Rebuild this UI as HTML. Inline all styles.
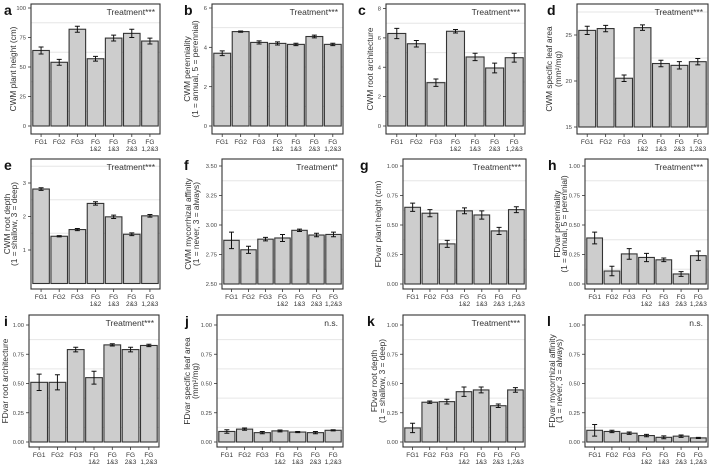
<!DOCTYPE html>
<html><head><meta charset="utf-8">
<style>
body{margin:0;background:#fff;}
svg{display:block;font-family:"Liberation Sans",Arial,sans-serif;}
</style></head>
<body>
<svg id="chart" width="709" height="466" viewBox="0 0 709 466" xmlns="http://www.w3.org/2000/svg"></svg>
<script>
const categories = [["FG1"],["FG2"],["FG3"],["FG","1&2"],["FG","1&3"],["FG","2&3"],["FG","1,2&3"]];
const valsA = [64,54,82,57,74.5,78.5,72];
const errA = [3,2.5,2.5,2,2.5,3.5,2.5];
const valsB = [3.7,4.8,4.25,4.2,4.15,4.55,4.15];
const errB = [0.12,0.03,0.08,0.08,0.06,0.07,0.06];
const valsC = [6.3,5.6,2.95,6.45,4.7,3.95,4.65];
const errC = [0.35,0.22,0.25,0.12,0.25,0.33,0.3];
const valsD = [25.5,25.7,20.3,25.8,21.9,21.7,22.1];
const errD = [0.45,0.35,0.35,0.3,0.35,0.4,0.35];
const valsE = [2.82,1.41,1.61,2.39,1.99,1.47,2.02];
const errE = [0.04,0.02,0.03,0.05,0.05,0.04,0.04];
const valsF = [2.87,2.79,2.88,2.89,2.955,2.915,2.92];
const errF = [0.07,0.03,0.015,0.03,0.01,0.015,0.02];
const valsG = [0.65,0.60,0.34,0.62,0.585,0.45,0.63];
const errG = [0.035,0.03,0.03,0.025,0.035,0.03,0.025];
const valsH = [0.39,0.11,0.255,0.225,0.205,0.085,0.24];
const errH = [0.05,0.04,0.045,0.035,0.015,0.02,0.04];
const valsI = [0.51,0.51,0.79,0.55,0.83,0.79,0.825];
const errI = [0.07,0.065,0.02,0.055,0.01,0.02,0.01];
const valsJ = [0.09,0.11,0.08,0.095,0.085,0.08,0.10];
const errJ = [0.015,0.01,0.01,0.008,0.005,0.01,0.005];
const valsK = [0.12,0.34,0.345,0.43,0.445,0.31,0.445];
const errK = [0.04,0.01,0.02,0.04,0.025,0.015,0.02];
const valsL = [0.10,0.09,0.075,0.055,0.04,0.05,0.035];
const errL = [0.05,0.01,0.01,0.01,0.012,0.01,0.005];
const ticksA = [0,25,50,75,100];
const ticksB = [0,2,4,6];
const ticksC = [0,2,4,6,8];
const ticksD = [15,20,25];
const ticksE = [1,2,3];
const ticksF = [2.5,2.75,3,3.25,3.5];
const ticksFD = [0,0.25,0.5,0.75,1];
const stats = ["Treatment***","Treatment***","Treatment***","Treatment***","Treatment***","Treatment*","Treatment***","Treatment***","Treatment***","n.s.","Treatment***","n.s."];

const NS="http://www.w3.org/2000/svg";
const svg=document.getElementById('chart');
function mk(tag,attrs,parent,text){const e=document.createElementNS(NS,tag);for(const k in attrs)e.setAttribute(k,attrs[k]);if(text!==undefined)e.textContent=text;(parent||svg).appendChild(e);return e;}

const panels=[
 {id:'a',L:31,R:160,T:4,B:134,v0:0,p0:126,v1:100,p1:8,base:0,ticks:ticksA,dec:0,vals:valsA,err:errA,lx:4,ly:15,title:["CWM plant height (cm)"],tx:[13]},
 {id:'b',L:212,R:343,T:4,B:134,v0:0,p0:126,v1:6,p1:8,base:0,ticks:ticksB,dec:0,vals:valsB,err:errB,lx:184,ly:15,title:["CWM perenniality","(1 = annual, 5 = perennial)"],tx:[187,195]},
 {id:'c',L:386,R:525,T:4,B:134,v0:0,p0:126,v1:8,p1:8.5,base:0,ticks:ticksC,dec:0,vals:valsC,err:errC,lx:358,ly:15,title:["CWM root architecture"],tx:[370]},
 {id:'d',L:577,R:708,T:4,B:134,v0:15,p0:127,v1:25,p1:35,base:15,ticks:ticksD,dec:0,vals:valsD,err:errD,lx:547,ly:15,title:["CWM specific leaf area","(mm²/mg)"],tx:[549,558]},
 {id:'e',L:31,R:160,T:159,B:289,v0:1,p0:250,v1:3,p1:183,base:0,ticks:ticksE,dec:0,vals:valsE,err:errE,lx:4,ly:170,title:["CWM root depth","(1 = shallow, 3 = deep)"],tx:[7,14]},
 {id:'f',L:222,R:343,T:159,B:289,v0:2.5,p0:284,v1:3.5,p1:166,base:2.5,ticks:ticksF,dec:2,vals:valsF,err:errF,lx:184,ly:170,title:["CWM mycorrhizal affinity","(1 = never, 3 = always)"],tx:[188,196]},
 {id:'g',L:403,R:526,T:159,B:289,v0:0,p0:284,v1:1,p1:166,base:0,ticks:ticksFD,dec:2,vals:valsG,err:errG,lx:360,ly:170,title:["FDvar plant height (cm)"],tx:[378]},
 {id:'h',L:585,R:708,T:159,B:289,v0:0,p0:284,v1:1,p1:166,base:0,ticks:ticksFD,dec:2,vals:valsH,err:errH,lx:548,ly:170,title:["FDvar perenniality","(1 = annual, 5 = perennial)"],tx:[557,564]},
 {id:'i',L:29,R:159,T:315,B:447,v0:0,p0:442,v1:1,p1:325,base:0,ticks:ticksFD,dec:2,vals:valsI,err:errI,lx:4,ly:326,title:["FDvar root architecture"],tx:[5]},
 {id:'j',L:217,R:343,T:315,B:447,v0:0,p0:442,v1:1,p1:325,base:0,ticks:ticksFD,dec:2,vals:valsJ,err:errJ,lx:185,ly:326,title:["FDvar specific leaf area","(mm²/mg)"],tx:[187,195]},
 {id:'k',L:403,R:525,T:315,B:447,v0:0,p0:442,v1:1,p1:325,base:0,ticks:ticksFD,dec:2,vals:valsK,err:errK,lx:367,ly:326,title:["FDvar root depth","(1 = shallow, 3 = deep)"],tx:[374,382]},
 {id:'l',L:585,R:708,T:315,B:447,v0:0,p0:442,v1:1,p1:325,base:0,ticks:ticksFD,dec:2,vals:valsL,err:errL,lx:547,ly:326,title:["FDvar mycorrhizal affinity","(1 = never, 3 = always)"],tx:[552,559]}
];

panels.forEach((p,pi)=>{
  const g=mk('g',{});
  
  
  const y=v=>p.p0+(v-p.v0)*(p.p1-p.p0)/(p.v1-p.v0);
  const step=p.ticks[1]-p.ticks[0];
  for(let t=0;t<p.ticks.length;t++){
    const m=p.ticks[t]+step/2;const yy=y(m);
    if(yy>p.T&&yy<p.B){const gl=mk('line',{x1:p.L,x2:p.R,y1:yy,y2:yy,stroke:'#e6e6e6','stroke-width':1},g);
      
      }
  }
  const W=p.R-p.L, slot=(W-2)/7;
  p.vals.forEach((v,i)=>{
    const x0=p.L+1+i*slot+0.8, bw=slot-1.6, cx=x0+bw/2;
    const yt=y(v), yb=y(p.base);
    const r=mk('rect',{x:x0,y:yt,width:bw,height:Math.max(0,yb-yt),fill:'#cdcdcd',stroke:'#333','stroke-width':1.1},g);
    
    
    const e=p.err[i];
    const eb=mk('path',{d:`M${cx},${y(v+e)}V${y(v-e)}M${cx-2.5},${y(v+e)}H${cx+2.5}M${cx-2.5},${y(v-e)}H${cx+2.5}`,stroke:'#111','stroke-width':1,fill:'none'},g);
    
    
    mk('line',{x1:cx,x2:cx,y1:p.B,y2:p.B+3,stroke:'#333','stroke-width':0.8},g);
    categories[i].forEach((s,k)=>{
      const t=mk('text',{x:cx,y:p.B+10+k*7,'font-size':6.5,'text-anchor':'middle',fill:'#333'},g,s);
      
      
    });
  });
  const box=mk('rect',{x:p.L,y:p.T,width:W,height:p.B-p.T,fill:'none',stroke:'#333','stroke-width':1.1},g);
  
  
  p.ticks.forEach(t=>{
    const yy=y(t);
    mk('line',{x1:p.L-3,x2:p.L,y1:yy,y2:yy,stroke:'#333','stroke-width':0.8},g);
    const tl=mk('text',{x:p.L-5,y:yy+2.1,'font-size':5.8,'text-anchor':'end',fill:'#444'},g,t.toFixed(p.dec));
    
    
  });
  const pl=mk('text',{x:p.lx,y:p.ly,'font-size':14,'font-weight':'bold',fill:'#111'},g,p.id);
  
  
  const cy=(p.T+p.B)/2;
  p.title.forEach((s,k)=>{
    const tx=p.tx[k]+3;
    const t=mk('text',{x:tx,y:cy,'font-size':8.3,'text-anchor':'middle',fill:'#333',transform:`rotate(-90 ${tx} ${cy})`},g,s);
    
    
  });
  const st=mk('text',{x:p.R-5,y:p.T+11,'font-size':8.5,'text-anchor':'end',fill:'#333'},g,stats[pi]);
  
  
});
</script>
</body></html>
